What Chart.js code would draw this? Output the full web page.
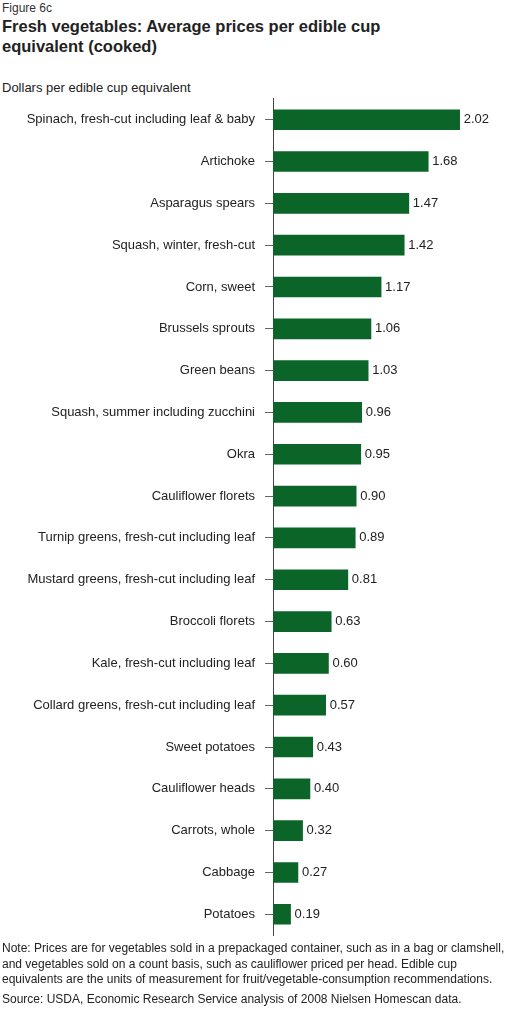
<!DOCTYPE html>
<html><head><meta charset="utf-8">
<script src="https://cdn.jsdelivr.net/npm/chart.js@4"></script>
<style>
body{margin:0;background:#fff;font-family:"Liberation Sans",Arial,sans-serif;color:#222;}
#fig{position:absolute;left:2px;top:1px;font-size:12px;color:#333;}
#title{position:absolute;left:2px;top:16px;font-size:16.5px;font-weight:bold;line-height:20px;width:440px;color:#222;}
#unit{position:absolute;left:2px;top:80px;font-size:13px;}
#wrap{position:absolute;left:0;top:81px;width:516px;height:872px;}
#note{position:absolute;left:2px;top:941px;font-size:12px;line-height:15.5px;width:514px;}
#src{position:absolute;left:2px;top:992px;font-size:12px;}
</style></head><body>
<div id="fig">Figure 6c</div>
<div id="title">Fresh vegetables: Average prices per edible cup equivalent (cooked)</div>
<div id="unit">Dollars per edible cup equivalent</div>
<div id="wrap"><canvas id="c"></canvas></div>
<div id="note">Note: Prices are for vegetables sold in a prepackaged container, such as in a bag or clamshell, and vegetables sold on a count basis, such as cauliflower priced per head. Edible cup equivalents are the units of measurement for fruit/vegetable-consumption recommendations.</div>
<div id="src">Source: USDA, Economic Research Service analysis of 2008 Nielsen Homescan data.</div>
<script>
const categories = ['Spinach, fresh-cut including leaf & baby','Artichoke','Asparagus spears','Squash, winter, fresh-cut','Corn, sweet','Brussels sprouts','Green beans','Squash, summer including zucchini','Okra','Cauliflower florets','Turnip greens, fresh-cut including leaf','Mustard greens, fresh-cut including leaf','Broccoli florets','Kale, fresh-cut including leaf','Collard greens, fresh-cut including leaf','Sweet potatoes','Cauliflower heads','Carrots, whole','Cabbage','Potatoes'];
const prices = [2.02,1.68,1.47,1.42,1.17,1.06,1.03,0.96,0.95,0.90,0.89,0.81,0.63,0.60,0.57,0.43,0.40,0.32,0.27,0.19];

const valueLabels = {
  id:'valueLabels',
  afterDatasetsDraw(chart){
    const ctx = chart.ctx;
    ctx.save();
    ctx.font = '13px "Liberation Sans", Arial, sans-serif';
    ctx.fillStyle = '#222';
    ctx.textBaseline = 'middle';
    chart.getDatasetMeta(0).data.forEach((bar,i)=>{
      ctx.fillText(prices[i].toFixed(2), bar.x + 4, bar.y);
    });
    ctx.restore();
  }
};

new Chart(document.getElementById('c'), {
  type:'bar',
  data:{labels:categories,datasets:[{data:prices,backgroundColor:'#0b6428',barThickness:20}]},
  options:{
    indexAxis:'y',
    responsive:true,maintainAspectRatio:false,animation:false,
    layout:{padding:{left:0,right:12,top:0,bottom:0}},
    plugins:{legend:{display:false},tooltip:{enabled:false}},
    scales:{
      x:{display:false,min:0,max:2.5},
      y:{
        grid:{display:true,drawOnChartArea:false,offset:false,tickLength:8,color:'#666'},
        border:{display:true,color:'#444'},
        ticks:{color:'#222',font:{family:'"Liberation Sans", Arial, sans-serif',size:13},padding:10},
        afterFit(s){s.width=273;}
      }
    }
  },
  plugins:[valueLabels]
});
</script>
</body></html>
